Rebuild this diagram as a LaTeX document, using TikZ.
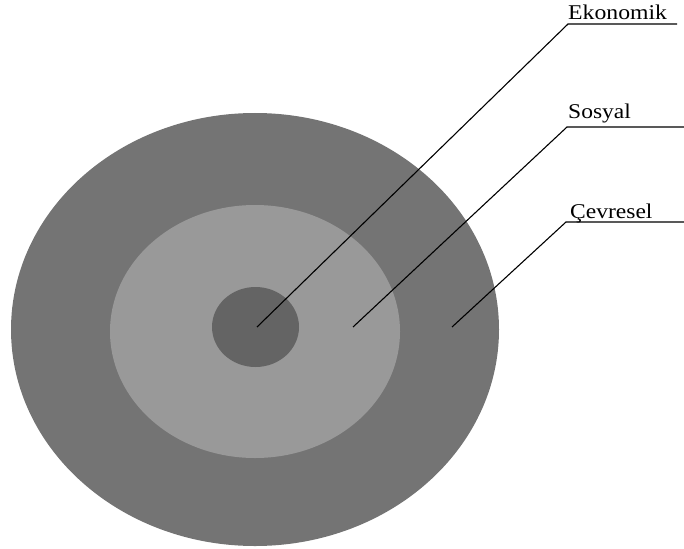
\documentclass[tikz,border=0pt]{standalone}
\usepackage{fontspec}
\setmainfont{Liberation Serif}
\begin{document}
\begin{tikzpicture}[x=1pt,y=-1pt,
  leader/.style={draw=black, line width=1.1pt},
  lab/.style={anchor=base west, inner sep=0pt, font=\fontsize{21}{24}\selectfont}]
\definecolor{outerc}{RGB}{116,116,116}
\definecolor{midc}{RGB}{153,153,153}
\definecolor{innerc}{RGB}{100,100,100}
\useasboundingbox (0,0) rectangle (684,548);
\fill[outerc] (255,329.5) ellipse [x radius=244, y radius=216.5];
\fill[midc] (255,331.5) ellipse [x radius=145, y radius=126.5];
\fill[innerc] (255.5,327) ellipse [x radius=43.5, y radius=40];
% Ekonomik
\coordinate (e0) at (257,327);
\coordinate (e1) at (568,24);
\coordinate (e2) at (677,24);
\draw[leader] (e0) -- (e1) -- (e2);
\node[lab] (ek) at (568,20) {\scalebox{1.13}[1]{Ekonomik}};
% Sosyal
\coordinate (s0) at (353,327);
\coordinate (s1) at (567,127);
\coordinate (s2) at (684,127);
\draw[leader] (s0) -- (s1) -- (s2);
\node[lab] (so) at (568,118.5) {\scalebox{1.12}[1]{Sosyal}};
% Cevresel
\coordinate (c0) at (452,327);
\coordinate (c1) at (566,222);
\coordinate (c2) at (684,222);
\draw[leader] (c0) -- (c1) -- (c2);
\node[lab] (ce) at (570,218) {\scalebox{1.12}[1]{Çevresel}};
\end{tikzpicture}
\end{document}
